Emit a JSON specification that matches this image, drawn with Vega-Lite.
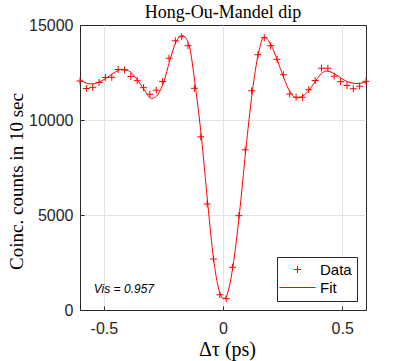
{
  "$schema": "https://vega.github.io/schema/vega-lite/v6.json",
  "autosize": {"type": "none"},
  "padding": {"left": 80, "top": 25, "right": 41, "bottom": 51},
  "width": 286,
  "height": 285,
  "background": "white",
  "title": {"text": "Hong-Ou-Mandel dip", "font": "Liberation Serif", "fontSize": 18, "fontWeight": "normal", "color": "black", "offset": -19, "baseline": "alphabetic", "anchor": "middle"},
  "config": {
    "view": {"stroke": "#262626", "strokeWidth": 1},
    "axis": {
      "grid": true,
      "gridColor": "#e2e2e2",
      "gridWidth": 1,
      "domain": false,
      "ticks": true,
      "tickSize": -4,
      "tickColor": "#262626",
      "labelFont": "Liberation Sans",
      "labelFontSize": 16,
      "labelColor": "#262626",
      "titleFont": "Liberation Serif",
      "titleFontWeight": "normal",
      "titleColor": "black"
    },
    "legend": {
      "orient": "bottom-right",
      "offset": 9,
      "fillColor": "white",
      "strokeColor": "#262626",
      "padding": 5,
      "symbolSize": 100,
      "symbolOffset": 8,
      "symbolStrokeWidth": 1,
      "labelOffset": 15,
      "labelFont": "Liberation Sans",
      "labelFontSize": 15,
      "labelColor": "black",
      "rowPadding": 2,
      "cornerRadius": 0
    }
  },
  "datasets": {
    "pts": [
      {"x": -0.6, "y": 12052, "series": "Data"},
      {"x": -0.5733, "y": 11658, "series": "Data"},
      {"x": -0.5467, "y": 11721, "series": "Data"},
      {"x": -0.52, "y": 11973, "series": "Data"},
      {"x": -0.4933, "y": 12237, "series": "Data"},
      {"x": -0.4667, "y": 12247, "series": "Data"},
      {"x": -0.44, "y": 12658, "series": "Data"},
      {"x": -0.4133, "y": 12631, "series": "Data"},
      {"x": -0.3867, "y": 12289, "series": "Data"},
      {"x": -0.36, "y": 12068, "series": "Data"},
      {"x": -0.3333, "y": 11700, "series": "Data"},
      {"x": -0.3067, "y": 11358, "series": "Data"},
      {"x": -0.28, "y": 11568, "series": "Data"},
      {"x": -0.2533, "y": 12026, "series": "Data"},
      {"x": -0.2267, "y": 13252, "series": "Data"},
      {"x": -0.2, "y": 14168, "series": "Data"},
      {"x": -0.1733, "y": 14384, "series": "Data"},
      {"x": -0.1467, "y": 13910, "series": "Data"},
      {"x": -0.12, "y": 11668, "series": "Data"},
      {"x": -0.0933, "y": 9116, "series": "Data"},
      {"x": -0.0667, "y": 5579, "series": "Data"},
      {"x": -0.04, "y": 2684, "series": "Data"},
      {"x": -0.0133, "y": 805, "series": "Data"},
      {"x": 0.0133, "y": 595, "series": "Data"},
      {"x": 0.04, "y": 2247, "series": "Data"},
      {"x": 0.0667, "y": 4963, "series": "Data"},
      {"x": 0.0933, "y": 8431, "series": "Data"},
      {"x": 0.12, "y": 11537, "series": "Data"},
      {"x": 0.1467, "y": 13437, "series": "Data"},
      {"x": 0.1733, "y": 14326, "series": "Data"},
      {"x": 0.2, "y": 13910, "series": "Data"},
      {"x": 0.2267, "y": 13194, "series": "Data"},
      {"x": 0.2533, "y": 12384, "series": "Data"},
      {"x": 0.28, "y": 11368, "series": "Data"},
      {"x": 0.3067, "y": 11200, "series": "Data"},
      {"x": 0.3333, "y": 11200, "series": "Data"},
      {"x": 0.36, "y": 11595, "series": "Data"},
      {"x": 0.3867, "y": 12079, "series": "Data"},
      {"x": 0.4133, "y": 12726, "series": "Data"},
      {"x": 0.44, "y": 12726, "series": "Data"},
      {"x": 0.4667, "y": 12305, "series": "Data"},
      {"x": 0.4933, "y": 12016, "series": "Data"},
      {"x": 0.52, "y": 11815, "series": "Data"},
      {"x": 0.5467, "y": 11647, "series": "Data"},
      {"x": 0.5733, "y": 11779, "series": "Data"},
      {"x": 0.6, "y": 12037, "series": "Data"}
    ],
    "fit": [
      {"x": -0.6, "y": 12105},
      {"x": -0.5748, "y": 11947},
      {"x": -0.5497, "y": 11895},
      {"x": -0.5245, "y": 11973},
      {"x": -0.4993, "y": 12131},
      {"x": -0.4741, "y": 12342},
      {"x": -0.449, "y": 12552},
      {"x": -0.4259, "y": 12668},
      {"x": -0.4028, "y": 12631},
      {"x": -0.3776, "y": 12394},
      {"x": -0.3525, "y": 12000},
      {"x": -0.3273, "y": 11526},
      {"x": -0.3, "y": 11131},
      {"x": -0.2748, "y": 11316},
      {"x": -0.2488, "y": 12000},
      {"x": -0.2224, "y": 13158},
      {"x": -0.1972, "y": 14105},
      {"x": -0.1699, "y": 14447},
      {"x": -0.1427, "y": 13947},
      {"x": -0.1162, "y": 11789},
      {"x": -0.0902, "y": 9052},
      {"x": -0.0642, "y": 5631},
      {"x": -0.039, "y": 2632},
      {"x": -0.021, "y": 1263},
      {"x": -0.0084, "y": 737},
      {"x": 0.0021, "y": 605},
      {"x": 0.0126, "y": 684},
      {"x": 0.0252, "y": 1158},
      {"x": 0.042, "y": 2316},
      {"x": 0.0684, "y": 5000},
      {"x": 0.0957, "y": 8421},
      {"x": 0.1229, "y": 11474},
      {"x": 0.1481, "y": 13474},
      {"x": 0.172, "y": 14368},
      {"x": 0.2014, "y": 13947},
      {"x": 0.2278, "y": 13158},
      {"x": 0.2538, "y": 12263},
      {"x": 0.2811, "y": 11474},
      {"x": 0.3105, "y": 11158},
      {"x": 0.3357, "y": 11263},
      {"x": 0.3608, "y": 11579},
      {"x": 0.386, "y": 12000},
      {"x": 0.407, "y": 12368},
      {"x": 0.4322, "y": 12579},
      {"x": 0.4573, "y": 12500},
      {"x": 0.4825, "y": 12316},
      {"x": 0.5077, "y": 12105},
      {"x": 0.5329, "y": 11973},
      {"x": 0.558, "y": 11921},
      {"x": 0.5832, "y": 11947},
      {"x": 0.6, "y": 12000}
    ],
    "ann": [
      {"x": -0.542, "y": 1100, "label": "Vis = 0.957"}
    ]
  },
  "encoding": {
    "x": {
      "field": "x",
      "type": "quantitative",
      "scale": {"domain": [-0.6, 0.6], "nice": false, "zero": false},
      "axis": {
        "values": [-0.5, 0, 0.5],
        "labelExpr": "datum.value < 0 ? '-' + format(-datum.value, '.1f') : (datum.value == 0 ? '0' : format(datum.value, '.1f'))",
        "labelPadding": 14,
        "title": "Δτ (ps)",
        "titleFontSize": 20,
        "titleBaseline": "alphabetic",
        "titleY": 45,
        "titleX": 147
      }
    },
    "y": {
      "field": "y",
      "type": "quantitative",
      "scale": {"domain": [0, 15000], "nice": false, "zero": false},
      "axis": {
        "values": [0, 5000, 10000, 15000],
        "format": "d",
        "labelPadding": 11,
        "gridColor": {"condition": {"test": "datum.value == 0 || datum.value == 15000", "value": "transparent"}, "value": "#e2e2e2"},
        "title": "Coinc. counts in 10 sec",
        "titleFontSize": 19,
        "titleBaseline": "alphabetic",
        "titleAngle": -90,
        "titleX": -58,
        "titleY": 156
      }
    }
  },
  "layer": [
    {
      "data": {"name": "fit"},
      "mark": {"type": "line", "color": "#ff0000", "strokeWidth": 1, "interpolate": "monotone"},
      "encoding": {}
    },
    {
      "data": {"name": "pts"},
      "mark": {"type": "point", "filled": false, "size": 100, "strokeWidth": 1, "opacity": 1},
      "encoding": {
        "color": {
          "field": "series",
          "type": "nominal",
          "scale": {"domain": ["Data", "Fit"], "range": ["#ff0000", "#ff0000"]},
          "legend": {"title": null}
        },
        "shape": {
          "field": "series",
          "type": "nominal",
          "scale": {"domain": ["Data", "Fit"], "range": ["M-0.7,0L0.7,0M0,-0.7L0,0.7", "M-3.6,0L3.6,0"]},
          "legend": {"title": null}
        }
      }
    },
    {
      "data": {"name": "ann"},
      "mark": {"type": "text", "align": "left", "baseline": "middle", "font": "Liberation Sans", "fontStyle": "italic", "fontSize": 12, "color": "black"},
      "encoding": {"text": {"field": "label"}}
    }
  ]
}
